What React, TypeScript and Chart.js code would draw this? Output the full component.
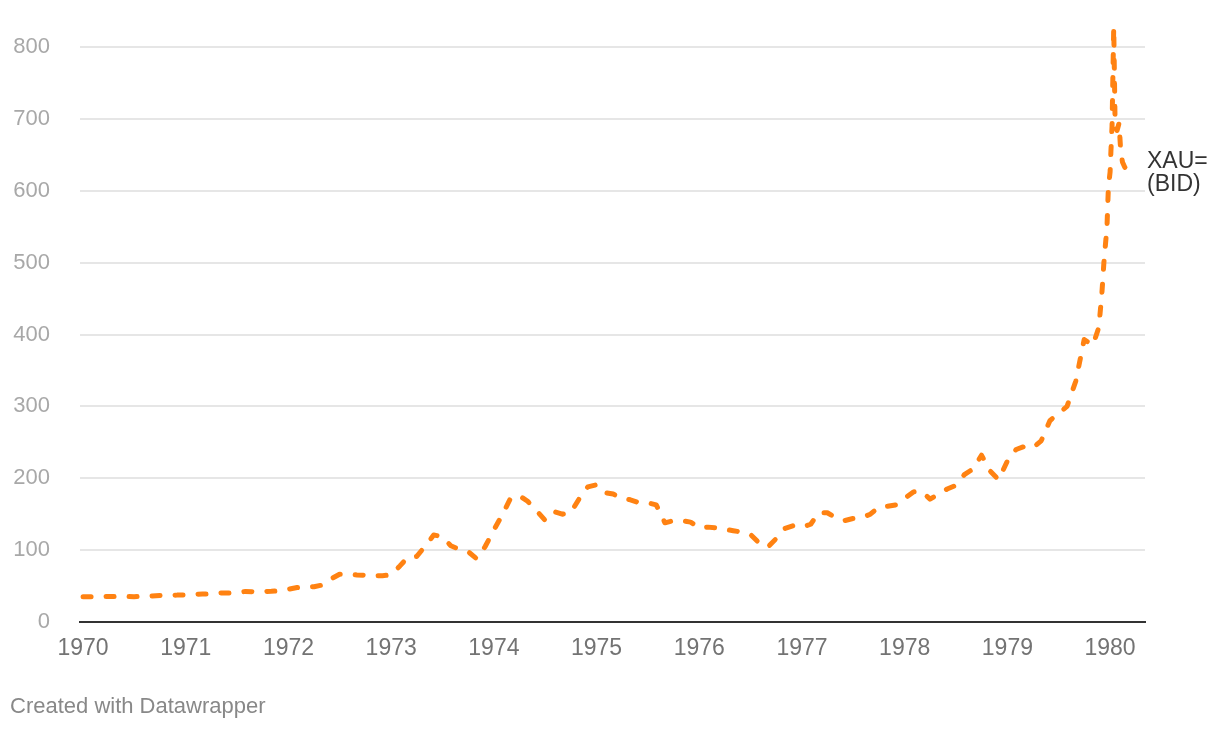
import React, { useEffect, useRef } from 'react';
import { Chart, registerables } from 'chart.js';

Chart.register(...registerables);

// Dates of the observations (YYYY-MM-DD) and gold bid price (USD/oz)
const dates: string[] = [
  '1970-01-01','1970-02-01','1970-03-01','1970-04-01','1970-05-01','1970-06-01','1970-07-01','1970-08-01','1970-09-01','1970-10-01','1970-11-01','1970-12-01',
  '1971-01-01','1971-02-01','1971-03-01','1971-04-01','1971-05-01','1971-06-01','1971-07-01','1971-08-01','1971-09-01','1971-10-01','1971-11-01','1971-12-01',
  '1972-01-01','1972-02-01','1972-03-01','1972-04-01','1972-05-01','1972-06-01','1972-07-01','1972-08-01','1972-09-01','1972-10-01','1972-11-01','1972-12-01',
  '1973-01-01','1973-02-01','1973-03-01','1973-04-01','1973-05-01','1973-06-01','1973-07-01','1973-08-01','1973-09-01','1973-10-01','1973-11-01','1973-12-01',
  '1974-01-01','1974-02-01','1974-03-01','1974-04-01','1974-05-01','1974-06-01','1974-07-01','1974-08-01','1974-09-01','1974-10-01','1974-11-01','1974-12-01',
  '1975-01-01','1975-02-01','1975-03-01','1975-04-01','1975-05-01','1975-06-01','1975-07-01','1975-08-01','1975-09-01','1975-10-01','1975-11-01','1975-12-01',
  '1976-01-01','1976-02-01','1976-03-01','1976-04-01','1976-05-01','1976-06-01','1976-07-01','1976-08-01','1976-09-01','1976-10-01','1976-11-01','1976-12-01',
  '1977-01-01','1977-02-01','1977-03-01','1977-04-01','1977-05-01','1977-06-01','1977-07-01','1977-08-01','1977-09-01','1977-10-01','1977-11-01','1977-12-01',
  '1978-01-01','1978-02-01','1978-03-01','1978-04-01','1978-05-01','1978-06-01','1978-07-01','1978-08-01','1978-09-01','1978-10-01','1978-11-01','1978-12-01',
  '1979-01-01','1979-02-01','1979-03-01','1979-04-01','1979-05-01','1979-06-01','1979-07-01','1979-08-01','1979-09-01','1979-10-01','1979-11-01',
  '1979-11-22','1979-12-03','1979-12-10','1979-12-21','1979-12-26','1980-01-01','1980-01-04','1980-01-08','1980-01-14',
  '1980-01-19','1980-01-26','1980-02-02','1980-02-07','1980-02-14','1980-02-22','1980-03-01',
];

const prices: number[] = [
  35.2, 35.2, 35.2, 35.4, 35.5, 35.4, 35.3, 35.4, 36.0, 37.0, 37.3, 37.4,
  37.8, 38.6, 38.8, 39.0, 40.3, 40.4, 41.0, 42.5, 42.0, 42.4, 42.8, 43.5,
  45.5, 48.0, 48.3, 49.0, 51.5, 60.0, 66.5, 66.5, 65.5, 65.0, 64.0, 64.5,
  65.5, 78, 90, 91, 105, 121, 119, 106, 101, 98, 88, 105,
  128, 150, 172, 176, 168, 155, 142, 154, 150, 152, 172, 188,
  191, 180, 178, 172, 170, 166, 166, 163, 138, 141, 141, 139,
  131, 132, 131, 129, 127, 125, 122, 110, 104, 116, 130, 134,
  132, 136, 152, 152, 145, 141, 144, 145, 150, 160, 161, 163,
  172, 181, 182, 171, 178, 185, 190, 205, 213, 232, 210, 198,
  224, 240, 244, 242, 252, 280, 290, 300, 335, 393, 385,
  410, 458, 500, 550, 605, 626, 655, 690, 828,
  690, 684, 694, 661, 640, 633, 630,
];

const xTickYears: number[] = [1970, 1971, 1972, 1973, 1974, 1975, 1976, 1977, 1978, 1979, 1980];
const yTickValues: number[] = [0, 100, 200, 300, 400, 500, 600, 700, 800];
const seriesLabelLines: string[] = ['XAU=', '(BID)'];
const footerText = 'Created with Datawrapper';

const FONT = "'Liberation Sans', Arial, Helvetica, sans-serif";
const ORANGE = '#ff8212';

function toDecimalYear(d: string): number {
  const [y, m, day] = d.split('-').map(Number);
  const start = Date.UTC(y, 0, 1);
  const end = Date.UTC(y + 1, 0, 1);
  const t = Date.UTC(y, m - 1, day);
  return y + (t - start) / (end - start);
}

export default function App() {
  const canvasRef = useRef<HTMLCanvasElement | null>(null);

  useEffect(() => {
    document.body.style.margin = '0';
    const canvas = canvasRef.current;
    if (!canvas) return;

    const points = dates.map((d, i) => ({ x: toDecimalYear(d), y: prices[i] }));

    const labelPlugin = {
      id: 'labelsAndFooter',
      afterDraw(chart: any) {
        const { ctx, chartArea, scales } = chart;
        ctx.save();
        const last = points[points.length - 1];
        const yLast = scales.y.getPixelForValue(last.y);
        ctx.fillStyle = '#333333';
        ctx.font = `23px ${FONT}`;
        ctx.textAlign = 'left';
        ctx.textBaseline = 'alphabetic';
        seriesLabelLines.forEach((line, i) => {
          ctx.fillText(line, chartArea.right + 2, yLast - 1 + i * 23);
        });
        ctx.fillStyle = '#888888';
        ctx.font = `22px ${FONT}`;
        ctx.fillText(footerText, 10, 713);
        ctx.restore();
      },
    };

    const chart = new Chart(canvas, {
      type: 'line',
      data: {
        datasets: [
          {
            label: 'XAU= (BID)',
            data: points,
            borderColor: ORANGE,
            backgroundColor: ORANGE,
            borderWidth: 5,
            borderDash: [8, 15],
            borderCapStyle: 'round',
            borderJoinStyle: 'round',
            pointRadius: 0,
            tension: 0,
            clip: false as any,
          },
        ],
      },
      options: {
        animation: false,
        responsive: false,
        maintainAspectRatio: false,
        layout: { padding: { top: 47, right: 75, bottom: 0, left: 0 } },
        plugins: {
          legend: { display: false },
          tooltip: { enabled: false },
        },
        scales: {
          x: {
            type: 'linear',
            min: 1969.97,
            max: 1980.34,
            afterBuildTicks: (scale: any) => {
              scale.ticks = xTickYears.map((v) => ({ value: v }));
            },
            afterFit: (scale: any) => {
              scale.height = 108;
            },
            grid: { display: false, drawTicks: false },
            border: { display: true, color: '#333333', width: 2 },
            ticks: {
              color: '#737373',
              font: { family: FONT, size: 23 },
              padding: 13,
              maxRotation: 0,
              autoSkip: false,
              callback: (v: any) => String(v),
            },
          },
          y: {
            type: 'linear',
            min: 0,
            max: 800,
            afterBuildTicks: (scale: any) => {
              scale.ticks = yTickValues.map((v) => ({ value: v }));
            },
            afterFit: (scale: any) => {
              scale.width = 80;
            },
            grid: {
              drawTicks: false,
              color: (c: any) => (c.tick && c.tick.value === 0 ? 'rgba(0,0,0,0)' : '#e6e6e6'),
              lineWidth: 2,
            },
            border: { display: false },
            ticks: {
              color: '#a8a8a8',
              font: { family: FONT, size: 22 },
              padding: 30,
              callback: (v: any) => String(v),
            },
          },
        },
      },
      plugins: [labelPlugin],
    });

    return () => chart.destroy();
  }, []);

  return (
    <div style={{ position: 'relative', width: 1220, height: 730, background: '#ffffff' }}>
      <canvas ref={canvasRef} width={1220} height={730} style={{ display: 'block', width: 1220, height: 730 }} />
    </div>
  );
}
